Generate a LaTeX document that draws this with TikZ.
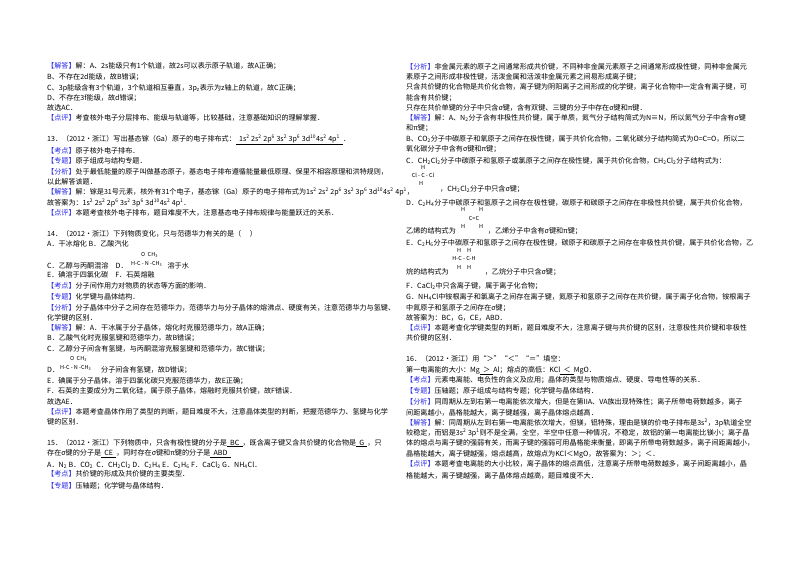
\documentclass[tikz,border=0pt]{standalone}
\usepackage{fontspec}
\setmainfont{Noto Sans CJK SC}
\definecolor{kb}{RGB}{40,40,230}
\newcounter{ln}
\newcommand\kw[1]{{\color{kb}【#1】}}
\newcommand\Ln[3]{\stepcounter{ln}\node[txt] (L\arabic{ln}) at (#1,#2) {#3};}
\newcommand\up[1]{\textsuperscript{#1}}
\newcommand\dn[1]{\textsubscript{#1}}
\newcommand\ul[1]{\underline{\hbox to 0pt{}\ \ #1\ \ }}
\tikzset{txt/.style={anchor=west,inner sep=0pt,font=\fontsize{7.1}{8}\selectfont},
 tiny/.style={inner sep=0pt,font=\fontsize{5.5}{6}\selectfont\itshape}}
\begin{document}
\begin{tikzpicture}[x=1pt,y=-1pt]
\useasboundingbox[fill=white] (0,0) rectangle (800,566);
% left column
\def\X{47}
\Ln{\X}{66}{\kw{解答}解：A、2s能级只有1个轨道，故2s可以表示原子轨道，故A正确；}
\Ln{\X}{77}{B、不存在2d能级，故B错误；}
\Ln{\X}{88}{C、3p能级含有3个轨道，3个轨道相互垂直，3p\dn{z}表示为z轴上的轨道，故C正确；}
\Ln{\X}{98}{D、不存在3f能级，故d错误；}
\Ln{\X}{108}{故选AC．}
\Ln{\X}{118}{\kw{点评}考查核外电子分层排布、能级与轨道等，比较基础，注意基础知识的理解掌握．}
\Ln{\X}{140}{13．（2012•浙江）写出基态镓（Ga）原子的电子排布式：\ul{1s\up2 2s\up2 2p\up6 3s\up2 3p\up6 3d\up{10}4s\up2 4p\up1}．}
\Ln{\X}{151}{\kw{考点}原子核外电子排布．}
\Ln{\X}{161}{\kw{专题}原子组成与结构专题．}
\Ln{\X}{172}{\kw{分析}处于最低能量的原子叫做基态原子，基态电子排布遵循能量最低原理、保里不相容原理和洪特规则，}
\Ln{\X}{182}{以此解答该题．}
\Ln{\X}{192}{\kw{解答}解：镓是31号元素，核外有31个电子，基态镓（Ga）原子的电子排布式为1s\up2 2s\up2 2p\up6 3s\up2 3p\up6 3d\up{10}4s\up2 4p\up1，}
\Ln{\X}{203}{故答案为：1s\up2 2s\up2 2p\up6 3s\up2 3p\up6 3d\up{10}4s\up2 4p\up1．}
\Ln{\X}{213}{\kw{点评}本题考查核外电子排布，题目难度不大，注意基态电子排布规律与能量跃迁的关系．}
\Ln{\X}{234}{14．（2012•浙江）下列物质变化，只与范德华力有关的是（\quad\ ）}
\Ln{\X}{244}{A．干冰熔化 B．乙酸汽化}
\Ln{\X}{266}{C．乙醇与丙酮混溶\quad D．\hspace{40pt}溶于水}
\node[tiny,anchor=west] (s1) at (131,264) {H-C - N -CH\dn3};
\node[tiny,anchor=west] (s1b) at (141,255) {O\ \ CH\dn3};
\Ln{\X}{275}{E．碘溶于四氯化碳\quad F．石英熔融}
\Ln{\X}{286}{\kw{考点}分子间作用力对物质的状态等方面的影响．}
\Ln{\X}{297}{\kw{专题}化学键与晶体结构．}
\Ln{\X}{308}{\kw{分析}分子晶体中分子之间存在范德华力，范德华力与分子晶体的熔沸点、硬度有关，注意范德华力与氢键、}
\Ln{\X}{318}{化学键的区别．}
\Ln{\X}{328}{\kw{解答}解：A．干冰属于分子晶体，熔化时克服范德华力，故A正确；}
\Ln{\X}{338}{B．乙酸气化时克服氢键和范德华力，故B错误；}
\Ln{\X}{349}{C．乙醇分子间含有氢键，与丙酮混溶克服氢键和范德华力，故C错误；}
\Ln{\X}{370}{D．\hspace{42pt}分子间含有氢键，故D错误；}
\node[tiny,anchor=west] (s2) at (60,368) {H-C - N -CH\dn3};
\node[tiny,anchor=west] (s2b) at (70,359) {O\ \ CH\dn3};
\Ln{\X}{381}{E．碘属于分子晶体，溶于四氯化碳只克服范德华力，故E正确；}
\Ln{\X}{391}{F．石英的主要成分为二氧化硅，属于原子晶体，熔融时克服共价键，故F错误．}
\Ln{\X}{402}{故选AE．}
\Ln{\X}{412}{\kw{点评}本题考查晶体作用了类型的判断，题目难度不大，注意晶体类型的判断，把握范德华力、氢键与化学}
\Ln{\X}{422}{键的区别．}
\Ln{\X}{443}{15．（2012•浙江）下列物质中，只含有极性键的分子是\ul{BC}，既含离子键又含共价键的化合物是\ul{G}，只}
\Ln{\X}{454}{存在σ键的分子是\ul{CE}，同时存在σ键和π键的分子是\ul{ABD}}
\Ln{\X}{465}{A．N\dn2 B．CO\dn2\ \ C．CH\dn2Cl\dn2 D．C\dn2H\dn4 E．C\dn2H\dn6 F．CaCl\dn2 G．NH\dn4Cl．}
\Ln{\X}{474}{\kw{考点}共价键的形成及共价键的主要类型．}
\Ln{\X}{486}{\kw{专题}压轴题；化学键与晶体结构．}
% right column
\def\X{406}
\Ln{\X}{67}{\kw{分析}非金属元素的原子之间通常形成共价键，不同种非金属元素原子之间通常形成极性键，同种非金属元}
\Ln{\X}{77}{素原子之间形成非极性键，活泼金属和活泼非金属元素之间易形成离子键；}
\Ln{\X}{87}{只含共价键的化合物是共价化合物，离子键为阴阳离子之间形成的化学键，离子化合物中一定含有离子键，可}
\Ln{\X}{98}{能含有共价键；}
\Ln{\X}{108}{只存在共价单键的分子中只含σ键，含有双键、三键的分子中存在σ键和π键．}
\Ln{\X}{118}{\kw{解答}解：A、N\dn2分子含有非极性共价键，属于单质，氮气分子结构简式为N≡N，所以氮气分子中含有σ键}
\Ln{\X}{128}{和π键；}
\Ln{\X}{139}{B、CO\dn2分子中碳原子和氧原子之间存在极性键，属于共价化合物，二氧化碳分子结构简式为O=C=O，所以二}
\Ln{\X}{149}{氧化碳分子中含有σ键和π键；}
\Ln{\X}{161}{C．CH\dn2Cl\dn2分子中碳原子和氢原子或氯原子之间存在极性键，属于共价化合物，CH\dn2Cl\dn2分子结构式为：}
\node[tiny] (c1) at (423,167) {H};
\node[tiny] (c2) at (423,175) {Cl - C - Cl};
\node[tiny] (c3) at (421,183) {H};
\Ln{440}{189}{，CH\dn2Cl\dn2分子中只含σ键；}
\Ln{\X}{203}{D．C\dn2H\dn4分子中碳原子和氢原子之间存在极性键，碳原子和碳原子之间存在非极性共价键，属于共价化合物，}
\node[tiny] (e1) at (472,209) {H\hspace{14pt}H};
\node[tiny] (e2) at (474,218) {C=C};
\node[tiny] (e3) at (472,226) {H\hspace{14pt}H};
\Ln{\X}{231}{乙烯的结构式为\hspace{32pt}，乙烯分子中含有σ键和π键；}
\Ln{\X}{243}{E．C\dn2H\dn6分子中碳原子和氢原子之间存在极性键，碳原子和碳原子之间存在非极性共价键，属于共价化合物，乙}
\node[tiny] (f1) at (464,250) {H\hspace{6pt}H};
\node[tiny] (f2) at (464,258) {H-C - C-H};
\node[tiny] (f3) at (464,267) {H\hspace{6pt}H};
\Ln{\X}{272}{烷的结构式为\hspace{36pt}，乙烷分子中只含σ键；}
\Ln{\X}{286}{F．CaCl\dn2中只含离子键，属于离子化合物；}
\Ln{\X}{297}{G．NH\dn4Cl中铵根离子和氯离子之间存在离子键，氮原子和氢原子之间存在共价键，属于离子化合物，铵根离子}
\Ln{\X}{308}{中氮原子和氢原子之间存在σ键；}
\Ln{\X}{318}{故答案为：BC，G，CE，ABD．}
\Ln{\X}{328}{\kw{点评}本题考查化学键类型的判断，题目难度不大，注意离子键与共价键的区别，注意极性共价键和非极性}
\Ln{\X}{338}{共价键的区别．}
\Ln{\X}{359}{16．（2012•浙江）用“＞”“＜”“＝”填空：}
\Ln{\X}{371}{第一电离能的大小：Mg\ul{＞}Al；熔点的高低：KCl\ul{＜}MgO．}
\Ln{\X}{380}{\kw{考点}元素电离能、电负性的含义及应用；晶体的类型与物质熔点、硬度、导电性等的关系．}
\Ln{\X}{391}{\kw{专题}压轴题；原子组成与结构专题；化学键与晶体结构．}
\Ln{\X}{402}{\kw{分析}同周期从左到右第一电离能依次增大，但是在第IIA、VA族出现特殊性；离子所带电荷数越多，离子}
\Ln{\X}{413}{间距离越小，晶格能越大，离子键越强，离子晶体熔点越高．}
\Ln{\X}{423}{\kw{解答}解：同周期从左到右第一电离能依次增大，但镁，铝特殊，理由是镁的价电子排布是3s\up2，3p轨道全空}
\Ln{\X}{433}{较稳定，而铝是3s\up2 3p\up1则不是全满，全空，半空中任意一种情况，不稳定，故铝的第一电离能比镁小；离子晶}
\Ln{\X}{443}{体的熔点与离子键的强弱有关，而离子键的强弱可用晶格能来衡量，即离子所带电荷数越多，离子间距离越小，}
\Ln{\X}{454}{晶格能越大，离子键越强，熔点越高，故熔点为KCl＜MgO，故答案为：＞；＜．}
\Ln{\X}{464}{\kw{点评}本题考查电离能的大小比较，离子晶体的熔点高低，注意离子所带电荷数越多，离子间距离越小，晶}
\Ln{\X}{476}{格能越大，离子键越强，离子晶体熔点越高，题目难度不大．}
\end{tikzpicture}
\end{document}
